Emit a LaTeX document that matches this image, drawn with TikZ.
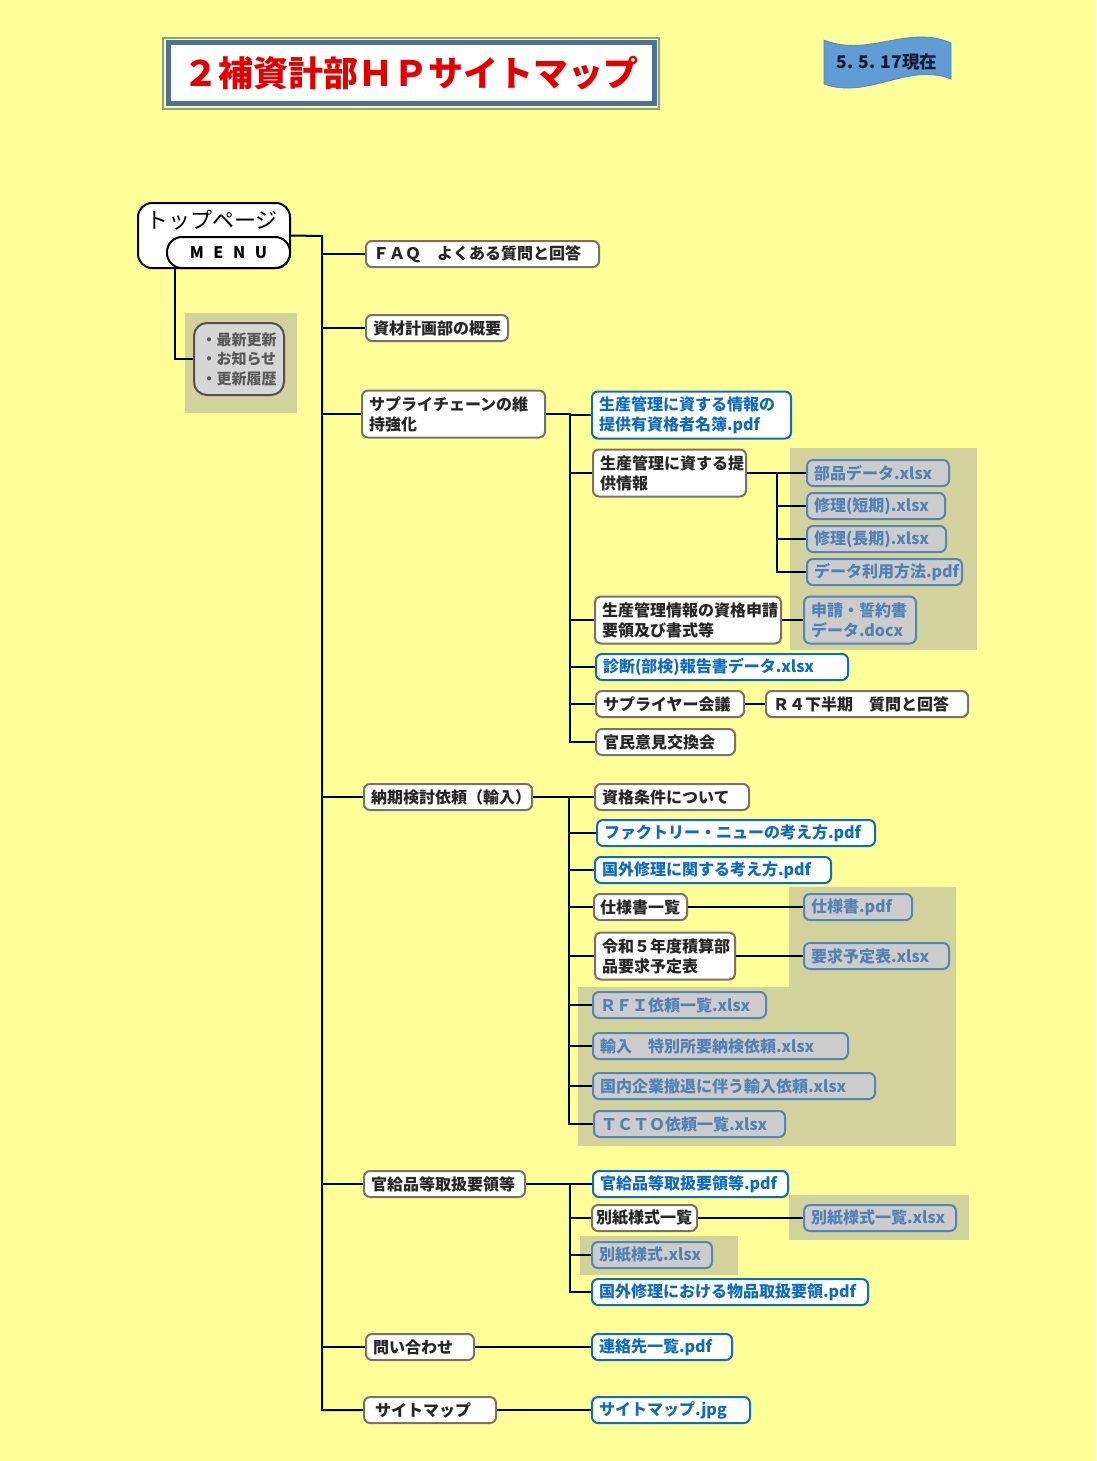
\documentclass[tikz,border=0pt]{standalone}
\usepackage{fontspec}
\setmainfont{Noto Sans CJK JP}
\usetikzlibrary{positioning}
\definecolor{bgyellow}{RGB}{255,255,153}
\definecolor{panelbg}{RGB}{211,209,156}
\definecolor{pageline}{RGB}{119,115,106}
\definecolor{pagetext}{RGB}{38,38,38}
\definecolor{linkblue}{RGB}{16,108,184}
\definecolor{filebd}{RGB}{84,134,184}
\definecolor{filebg}{RGB}{204,204,204}
\definecolor{filetx}{RGB}{80,130,182}
\definecolor{titlebd}{RGB}{79,112,150}
\definecolor{titleout}{RGB}{140,158,140}
\definecolor{titlered}{RGB}{225,0,0}
\definecolor{banner}{RGB}{96,155,212}
\definecolor{bannertx}{RGB}{22,28,48}
\definecolor{newsbd}{RGB}{80,80,80}
\definecolor{newsbg}{RGB}{214,214,214}
\definecolor{newstx}{RGB}{90,90,90}
\newcommand\nodefont{\fontsize{16}{20}\selectfont\bfseries}

\begin{document}
\begin{tikzpicture}[x=1pt, y=-1pt,
		page/.style = {draw=pageline, fill=white, line width=2, rounded corners=6, text=pagetext,
			anchor=west, inner xsep=7, inner ysep=4, minimum height=26, align=left, font=\nodefont,
			text width=#1pt},
		link/.style = {page=#1, draw=linkblue, text=linkblue},
		file/.style = {page=#1, draw=filebd, fill=filebg, text=filetx},
		tall/.style = {minimum height=47},
		panel/.style = {fill=panelbg},
		ln/.style = {line width=2, black}
		]
	
	\fill[bgyellow] (0,0) rectangle (1096,1461);
	\useasboundingbox (0,0) rectangle (1096,1461);
	
	% === === Title === ===
	\draw[titleout, line width=1.2] (163,38) rectangle (659,109);
	\node[draw=titlebd, line width=5, fill=white, minimum width=486, minimum height=61, text=titlered,
		font=\fontsize{35}{40}\selectfont\bfseries] (title) at (411,73.5) {２補資計部ＨＰサイトマップ};
	
	\fill[banner, draw=filebd, line width=0.8] (824,40) .. controls (868,58) and (908,24) .. (951,43)
		-- (951,79) .. controls (908,62) and (868,100) .. (824,84) -- cycle;
	\node[text=bannertx, font=\fontsize{17.5}{20}\selectfont\bfseries] (date) at (887,62) {5. 5. 17現在};
	
	% === === Panels === ===
	\fill[panel] (185,313) rectangle (297,413);
	\fill[panel] (790,448) rectangle (977,650);
	\fill[panel] (789,887) -- (956,887) -- (956,1146) -- (578,1146) -- (578,987) -- (789,987) -- cycle;
	\fill[panel] (789,1195) rectangle (969,1240);
	\fill[panel] (580,1236) rectangle (738,1275);
	
	% === === Top page === ===
	\node[draw, line width=2, fill=white, rounded corners=14, minimum width=152, minimum height=65] (top) at (214,235.5) {};
	\node[font=\fontsize{22}{24}\selectfont] (toptitle) at (212,220) {トップページ};
	\node[draw, line width=2, fill=white, rounded corners=15, minimum width=123, minimum height=31,
		font=\fontsize{16}{18}\selectfont\bfseries] (menu) at (228.5,252.5) {M\hspace{0.6em}E\hspace{0.6em}N\hspace{0.6em}U};
	\node[draw=newsbd, line width=2, fill=newsbg, text=newstx, rounded corners=13, align=left,
		font=\fontsize{15}{19.5}\selectfont\bfseries, minimum width=90, minimum height=72] (news) at (239,359)
		{・最新更新\\・お知らせ\\・更新履歴};
	
	% === === Level 1 === ===
	\node[page=219]			(faq)		at	(365, 254)	{ＦＡＱ　よくある質問と回答};
	\node[page=128]			(gaiyo)		at	(365, 328)	{資材計画部の概要};
	\node[page=169, tall]	(supply)	at	(361, 414)	{サプライチェーンの維\\持強化};
	\node[page=154]			(noki)		at	(363, 797)	{納期検討依頼（輸入）};
	\node[page=147]			(kankyu)	at	(363, 1184)	{官給品等取扱要領等};
	\node[page=94]			(toiawase)	at	(365, 1347)	{問い合わせ};
	\node[page=118]			(sitemap)	at	(363, 1410)	{\hspace{4pt}サイトマップ};
	
	% === === Supply chain === ===
	\node[link=185, tall]	(meibo)		at	(591, 415)	{生産管理に資する情報の\\提供有資格者名簿.pdf};
	\node[page=139, tall]	(teikyo)	at	(592, 473)	{生産管理に資する提\\供情報};
	\node[page=172, tall]	(shinsei)	at	(594, 620)	{生産管理情報の資格申請\\要領及び書式等};
	\node[link=238]			(shindan)	at	(595, 667)	{診断(部検)報告書データ.xlsx};
	\node[page=134]			(kaigi)		at	(595, 704)	{サプライヤー会議};
	\node[page=125]			(kanmin)	at	(595, 742)	{官民意見交換会};
	\node[file=128]			(buhin)		at	(806, 473)	{部品データ.xlsx};
	\node[file=124]			(tanki)		at	(806, 506)	{修理(短期).xlsx};
	\node[file=125]			(choki)		at	(806, 539)	{修理(長期).xlsx};
	\node[file=141]			(riyo)		at	(806, 572)	{データ利用方法.pdf};
	\node[file=98, tall]	(seiyaku)	at	(803, 620)	{申請・誓約書\\データ.docx};
	\node[page=188]			(qa)		at	(765, 704)	{Ｒ４下半期　質問と回答};
	
	% === === Delivery === ===
	\node[page=140]			(joken)		at	(594, 797)	{資格条件について};
	\node[link=264]			(factory)	at	(596, 833)	{ファクトリー・ニューの考え方.pdf};
	\node[link=222]			(kokugai)	at	(594, 870)	{国外修理に関する考え方.pdf};
	\node[page=81, inner xsep=6]	(shiyo)	at	(593, 907)	{仕様書一覧};
	\node[page=126, tall]	(yokyu)		at	(594, 956)	{令和５年度積算部\\品要求予定表};
	\node[file=94]			(shiyopdf)	at	(803, 907)	{仕様書.pdf};
	\node[file=131]			(yokyuxls)	at	(803, 956)	{要求予定表.xlsx};
	\node[file=159]			(rfi)		at	(592, 1005)	{ＲＦＩ依頼一覧.xlsx};
	\node[file=241]			(yunyu)		at	(592, 1046)	{輸入　特別所要納検依頼.xlsx};
	\node[file=268]			(tettai)	at	(592, 1086)	{国内企業撤退に伴う輸入依頼.xlsx};
	\node[file=177]			(tcto)		at	(593, 1124)	{ＴＣＴＯ依頼一覧.xlsx};
	
	% === === Supplied items === ===
	\node[link=181]			(kankyupdf)	at	(592, 1184)	{官給品等取扱要領等.pdf};
	\node[page=97, inner xsep=4]	(bessi)	at	(591, 1218)	{別紙様式一覧};
	\node[file=138]			(bessixls)	at	(803, 1218)	{別紙様式一覧.xlsx};
	\node[file=106]			(yoshiki)	at	(591, 1255)	{別紙様式.xlsx};
	\node[link=262]			(buppin)	at	(591, 1292)	{国外修理における物品取扱要領.pdf};
	
	\node[link=126]			(renraku)	at	(591, 1347)	{連絡先一覧.pdf};
	\node[link=144]			(sitejpg)	at	(591, 1410)	{サイトマップ.jpg};
	
	% === === Lines === ===
	\coordinate (trunk) at (322, 236);
	\coordinate (b1) at (570, 414);
	\coordinate (b2) at (777, 473);
	\coordinate (b3) at (569, 797);
	\coordinate (b4) at (570, 1184);
	
	\draw[ln]	([xshift=-39]top.south) |- (news.west);
	\draw[ln]	(top.east) -- (trunk) |- (sitemap.west);
	\foreach \n in {faq, gaiyo, supply, noki, kankyu, toiawase}
		\draw[ln]	(trunk |- \n.west) -- (\n.west);
	
	\draw[ln]	(supply.east) -- (b1) |- (kanmin.west);
	\foreach \n in {meibo, teikyo, shinsei, shindan, kaigi}
		\draw[ln]	(b1 |- \n.west) -- (\n.west);
	\draw[ln]	(teikyo.east) -- (b2) |- (riyo.west);
	\foreach \n in {buhin, tanki, choki}
		\draw[ln]	(b2 |- \n.west) -- (\n.west);
	\draw[ln]	(shinsei.east) -- (seiyaku.west);
	\draw[ln]	(kaigi.east) -- (qa.west);
	
	\draw[ln]	(noki.east) -- (b3) |- (tcto.west);
	\foreach \n in {joken, factory, kokugai, shiyo, yokyu, rfi, yunyu, tettai}
		\draw[ln]	(b3 |- \n.west) -- (\n.west);
	\draw[ln]	(shiyo.east) -- (shiyopdf.west);
	\draw[ln]	(yokyu.east) -- (yokyuxls.west);
	
	\draw[ln]	(kankyu.east) -- (b4) |- (buppin.west);
	\foreach \n in {kankyupdf, bessi, yoshiki}
		\draw[ln]	(b4 |- \n.west) -- (\n.west);
	\draw[ln]	(bessi.east) -- (bessixls.west);
	
	\draw[ln]	(toiawase.east) -- (renraku.west);
	\draw[ln]	(sitemap.east) -- (sitejpg.west);
	
\end{tikzpicture}
\end{document}
